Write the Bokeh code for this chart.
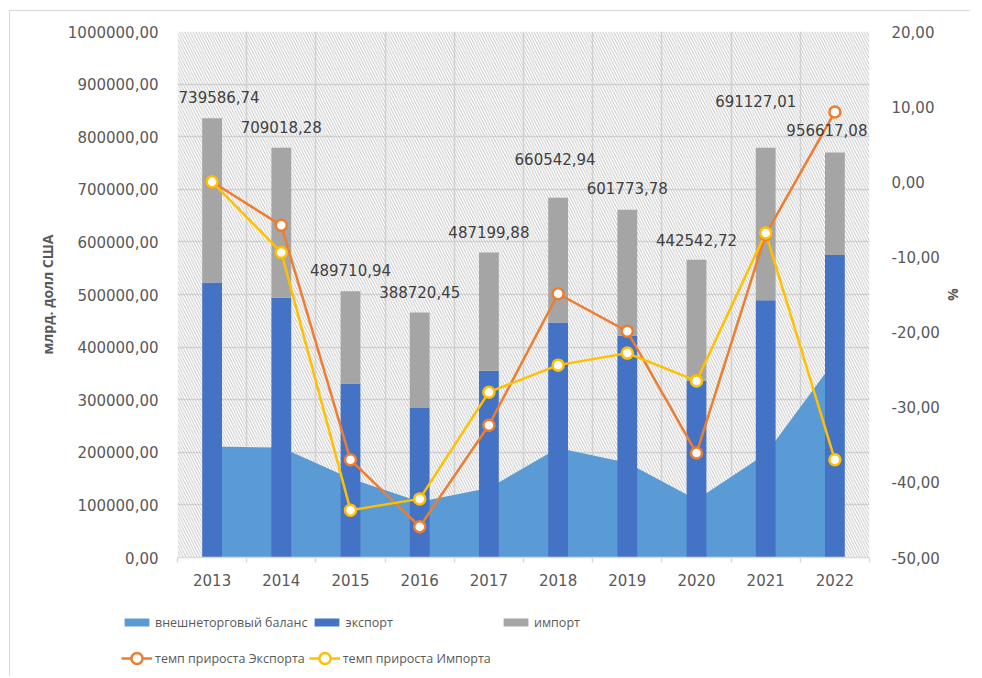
from bokeh.plotting import figure
from bokeh.layouts import column
from bokeh.models import (Range1d, LinearAxis, FixedTicker, CustomJSTickFormatter,
                          BoxAnnotation, Legend, LegendItem, ColumnDataSource)
from bokeh.core.properties import value
from bokeh.embed import file_html
from bokeh.resources import INLINE

# ---------------- data ----------------
years = ["2013", "2014", "2015", "2016", "2017", "2018", "2019", "2020", "2021", "2022"]
export = [523000, 494000, 331000, 284000, 355000, 447000, 422000, 336000, 489000, 575000]
imports = [312000, 285000, 175000, 182000, 225000, 237000, 239000, 230000, 290000, 195000]
balance = [211000, 209000, 150000, 106000, 132000, 208000, 180000, 110000, 197000, 375000]
export_growth = [0.0, -5.8, -37.0, -45.9, -32.4, -14.9, -19.9, -36.1, -7.0, 9.3]
import_growth = [0.0, -9.4, -43.7, -42.2, -28.0, -24.4, -22.8, -26.5, -6.8, -37.0]
label_texts = ["739586,74", "709018,28", "489710,94", "388720,45", "487199,88",
               "660542,94", "601773,78", "442542,72", "691127,01", "956617,08"]
left_ticks = [0, 100000, 200000, 300000, 400000, 500000, 600000, 700000, 800000, 900000, 1000000]
right_ticks = [-50, -40, -30, -20, -10, 0, 10, 20]
series_names = ["внешнеторговый баланс", "экспорт", "импорт",
                "темп прироста Экспорта", "темп прироста Импорта"]

# ---------------- style ----------------
label_dx = [7, 0, 0, 0, 0, -3, 0, 0, -10, -8]
label_dy = [-21, -21, -21, -20, -20, -39, -22, -20, -47, -22]

C_BAL = "#5B9BD5"
C_EXP = "#4472C4"
C_IMP = "#A5A5A5"
C_EG = "#ED7D31"
C_IG = "#FFC000"
GRID = "#d9d9d9"
TXT = "#595959"
NUMFONT = "DejaVu Sans"
BAR_W = 0.286

n = len(years)
xc = [i + 0.5 for i in range(n)]
bounds = [float(i) for i in range(n + 1)]
total = [e + m for e, m in zip(export, imports)]

src = ColumnDataSource(dict(x=xc, export=export, imp=imports, balance=balance,
                            eg=export_growth, ig=import_growth, total=total,
                            lbl=label_texts, dx=label_dx, dy=label_dy))


def add_series(fig, pct_range):
    r_bal = fig.varea(x="x", y1=0, y2="balance", source=src, fill_color=C_BAL)
    r_exp = fig.vbar(x="x", width=BAR_W, bottom=0, top="export", source=src,
                     fill_color=C_EXP, line_color=None)
    r_imp = fig.vbar(x="x", width=BAR_W, bottom="export", top="total", source=src,
                     fill_color=C_IMP, line_color=None)
    r_egl = fig.line(x="x", y="eg", source=src, y_range_name=pct_range,
                     line_color=C_EG, line_width=2.5)
    r_igl = fig.line(x="x", y="ig", source=src, y_range_name=pct_range,
                     line_color=C_IG, line_width=2.5)
    r_egm = fig.scatter(x="x", y="eg", source=src, y_range_name=pct_range, marker="circle",
                        size=11, fill_color="white", line_color=C_EG, line_width=2.5)
    r_igm = fig.scatter(x="x", y="ig", source=src, y_range_name=pct_range, marker="circle",
                        size=11, fill_color="white", line_color=C_IG, line_width=2.5)
    return r_bal, r_exp, r_imp, (r_egl, r_egm), (r_igl, r_igm)


W = 960
p = figure(width=W, height=586, x_range=Range1d(0, n), y_range=Range1d(0, 1000000),
           output_backend="svg", toolbar_location=None,
           min_border_left=167, min_border_right=101, min_border_top=20, min_border_bottom=40)
p.extra_y_ranges = {"pct": Range1d(-50, 20)}
p.outline_line_color = None

# hatched background
p.add_layout(BoxAnnotation(fill_alpha=0, line_color=None, hatch_pattern="\\",
                           hatch_color="#bdbdbd", hatch_scale=5.5, hatch_weight=0.9,
                           level="underlay"))

fmt = CustomJSTickFormatter(code="return tick.toFixed(2).replace('.', ',');")

# left axis
ya = p.yaxis[0]
ya.ticker = FixedTicker(ticks=left_ticks)
ya.formatter = fmt
ya.axis_line_color = None
ya.major_tick_line_color = None
ya.minor_tick_line_color = None
ya.major_label_standoff = 13
ya.major_label_text_font = NUMFONT
ya.major_label_text_font_size = "15px"
ya.major_label_text_color = TXT
ya.axis_label = "млрд. долл США"
ya.axis_label_text_font = "Open Sans"
ya.axis_label_text_font_style = "bold"
ya.axis_label_text_font_size = "14px"
ya.axis_label_text_color = TXT
ya.axis_label_standoff = 8

# right axis
ra = LinearAxis(y_range_name="pct", ticker=FixedTicker(ticks=right_ticks), formatter=fmt)
ra.axis_line_color = None
ra.major_tick_line_color = None
ra.minor_tick_line_color = None
ra.major_label_standoff = 16
ra.major_label_text_font = NUMFONT
ra.major_label_text_font_size = "15px"
ra.major_label_text_color = TXT
ra.axis_label = "%"
ra.axis_label_text_font = "Open Sans"
ra.axis_label_text_font_style = "bold"
ra.axis_label_text_font_size = "14px"
ra.axis_label_text_color = TXT
ra.axis_label_standoff = 1
p.add_layout(ra, "right")

# x axis
xa = p.xaxis[0]
xa.ticker = FixedTicker(ticks=xc, minor_ticks=bounds)
xa.formatter = CustomJSTickFormatter(args=dict(years=years),
                                     code="return years[Math.floor(tick)];")
xa.axis_line_color = GRID
xa.axis_line_width = 1.5
xa.major_tick_line_color = None
xa.minor_tick_line_color = GRID
xa.minor_tick_line_width = 1.5
xa.minor_tick_in = 0
xa.minor_tick_out = 5
xa.major_label_standoff = 10
xa.major_label_text_font = NUMFONT
xa.major_label_text_font_size = "15px"
xa.major_label_text_color = TXT

# grids
p.xgrid.ticker = FixedTicker(ticks=bounds)
p.xgrid.grid_line_color = GRID
p.xgrid.grid_line_width = 1.5
p.ygrid.ticker = FixedTicker(ticks=left_ticks)
p.ygrid.grid_line_color = GRID
p.ygrid.grid_line_width = 1.5

add_series(p, "pct")

# data labels
p.text(x="x", y="total", text="lbl", x_offset="dx", y_offset="dy", source=src,
       text_align="center", text_baseline="middle", text_font=value(NUMFONT),
       text_font_size="15px", text_color="#404040")

# ---------------- legend strip (own figure; data kept out of its view) ----------------
lg = figure(width=W, height=79, x_range=Range1d(0, n), y_range=Range1d(5e6, 6e6),
            x_axis_type=None, y_axis_type=None, output_backend="svg", toolbar_location=None,
            min_border_left=0, min_border_right=0, min_border_top=0, min_border_bottom=0)
lg.extra_y_ranges = {"pct": Range1d(5e6, 6e6)}
lg.frame_align = False
lg.outline_line_color = None
lg.xgrid.visible = False
lg.ygrid.visible = False
l_bal, l_exp, l_imp, l_eg, l_ig = add_series(lg, "pct")


def make_legend(items, loc, glyph_h, label_h):
    leg = Legend(items=items, ncols=len(items), orientation="horizontal", location=loc)
    leg.padding = 0
    leg.margin = 0
    leg.border_line_color = None
    leg.background_fill_alpha = 0
    leg.glyph_width = 31
    leg.glyph_height = glyph_h
    leg.label_height = label_h
    leg.label_standoff = 3
    leg.spacing = 4
    leg.label_text_font = "Open Sans"
    leg.label_text_font_size = "12.5px"
    leg.label_text_color = TXT
    return leg


leg1 = make_legend([
    LegendItem(label=series_names[0], renderers=[l_bal]),
    LegendItem(label=series_names[1], renderers=[l_exp]),
], (111, 44), 10, 20)
leg3 = make_legend([
    LegendItem(label=series_names[2], renderers=[l_imp]),
], (490, 44), 10, 20)
leg2 = make_legend([
    LegendItem(label=series_names[3], renderers=list(l_eg)),
    LegendItem(label=series_names[4], renderers=list(l_ig)),
], (111, 4), 28, 28)
lg.add_layout(leg1)
lg.add_layout(leg3)
lg.add_layout(leg2)

layout = column(p, lg, spacing=0,
                styles={"margin-left": "9px", "margin-top": "10px",
                        "border-top": "1px solid #d9d9d9", "border-left": "1px solid #d9d9d9"})

open("out.html", "w").write(file_html(layout, INLINE))
